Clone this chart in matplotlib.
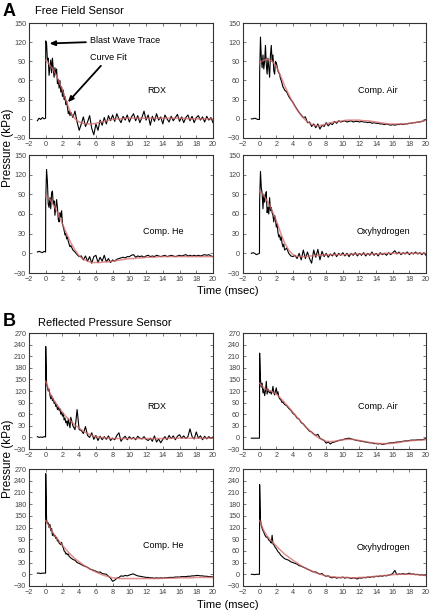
import numpy as np
import matplotlib
matplotlib.use("Agg")
import matplotlib.pyplot as plt

plt.rcParams['font.family'] = ['Liberation Sans', 'DejaVu Sans']

########
# Data #
########
# sample times (msec)
T_PRE = [-1.0, -0.8, -0.6, -0.4, -0.2, -0.02]
T_EARLY = [round(0.1 * i, 2) for i in range(31)]          # 0.0 .. 3.0
T_LATE = [round(3.25 + 0.25 * i, 2) for i in range(68)]   # 3.25 .. 20
T_TRACE = T_PRE + T_EARLY + T_LATE
T_FIT = [0.5 * i for i in range(41)]                       # 0 .. 20

# --- A: free field sensor ---
A_RDX_TRACE = (
    [-3, 1, -1, 2, 0, 1]
    + [122, 118, 92, 95, 68, 80, 92, 72, 95, 78, 65, 80, 70, 78, 55, 62, 48, 60, 42, 50,
       35, 45, 30, 35, 22, 28, 18, 8, 12, 5, 10]
    + [2, 12, -5, -18, -8, 3, -12, -5, 5, -15, -25, -8, -18, -2, -10, 2, -8, 5, -3, 6,
       -4, 8, 0, -6, 4, -2, 6, -5, 3, 8, -3, 5, -6, 2, 12, -2, 6, -10, 4, -4,
       8, -2, 3, -8, 6, 0, -5, 4, -3, 2, 7, -4, 3, -6, 2, 6, -3, 4, -6, 2,
       5, -2, 3, -5, 4, -2, 2, -6])
A_RDX_FIT = [92, 84, 75, 61, 45, 26, 9, 0, -5, -7, -8, -8, -7, -5, -4, -2, -1, 0, 0, 1,
             1, 1, 1, 1, 1, 1, 1, 1, 1, 1, 1, 1, 1, 1, 0, 0, 0, 0, 0, 0, 0]

A_AIR_TRACE = (
    [0, 0, 1, 0, -1, -1]
    + [70, 128, 95, 80, 100, 78, 90, 115, 85, 70, 95, 80, 65, 100, 115, 90, 100, 75, 70, 90,
       88, 82, 75, 72, 70, 63, 60, 55, 50, 48, 45]
    + [42, 35, 30, 26, 20, 15, 10, 6, 2, 3, -6, -5, -12, -8, -14, -8, -16, -10, -12, -6,
       -11, -7, -9, -4, -7, -3, -5, -4, -3, -5, -4, -3, -5, -4, -4, -5, -4, -5, -5, -6,
       -5, -7, -6, -7, -7, -8, -8, -9, -8, -9, -10, -9, -10, -9, -9, -8, -9, -8, -8, -7,
       -7, -6, -6, -5, -5, -4, -3, -1])
A_AIR_FIT = [88, 92, 93, 90, 82, 68, 52, 38, 25, 14, 5, -2, -7, -10, -11, -10, -8, -6, -5, -4,
             -3, -2, -2, -2, -2, -3, -3, -4, -5, -6, -7, -8, -8, -8, -8, -8, -7, -6, -5, -4, -2]

A_HE_TRACE = (
    [2, 3, 2, 1, 3, 2]
    + [80, 128, 110, 75, 70, 85, 68, 92, 95, 75, 80, 58, 70, 82, 70, 52, 48, 62, 55, 65,
       45, 40, 35, 28, 30, 22, 25, 18, 14, 10, 12]
    + [5, 2, -2, -5, -4, -10, -4, -12, -5, -15, -5, -3, -14, -6, -12, -3, -13, -8, -14, -10,
       -12, -9, -8, -7, -6, -7, -5, -5, -3, -2, -6, -4, -5, -4, -6, -4, -3, -5, -4, -5,
       -3, -4, -5, -4, -3, -5, -4, -3, -4, -5, -4, -3, -4, -3, -2, -4, -3, -4, -3, -4,
       -3, -4, -3, -2, -3, -2, -4, -5])
A_HE_FIT = [88, 82, 72, 60, 45, 30, 16, 5, -4, -9, -12, -14, -14, -14, -13, -13, -12, -11, -10, -9,
            -8, -8, -7, -7, -6, -6, -6, -5, -5, -5, -5, -5, -5, -5, -5, -5, -5, -5, -5, -5, -5]

A_OXY_TRACE = (
    [0, 1, 0, -2, -1, 0]
    + [80, 125, 100, 92, 68, 90, 78, 88, 94, 62, 70, 60, 85, 65, 70, 62, 58, 48, 58, 52,
       40, 45, 32, 25, 28, 20, 25, 15, 10, 14, 5]
    + [8, 0, -4, -5, -3, -8, 0, -10, 5, -8, 2, -8, -15, 5, -6, 6, -10, 3, -5, 0,
       -6, -1, -4, 1, -5, 0, -3, 1, -4, 0, -5, 0, -3, 1, -4, 0, -3, 1, -4, 0,
       -3, 2, -3, 0, -4, 1, -2, 0, -3, 1, -2, 1, 4, -1, 2, -2, 1, -1, 2, -2,
       1, -1, 2, -1, 1, -2, 1, -3])
A_OXY_FIT = [95, 88, 78, 65, 50, 32, 16, 5, -2, -5, -5, -5, -4, -4, -3, -3, -2, -2, -2, -2,
             -2, -2, -1, -1, -1, -1, -1, -1, -1, -1, 0, 0, 0, 0, 0, 0, 0, 0, 0, 0, 0]

# --- B: reflected pressure sensor ---
B_RDX_TRACE = (
    [2, 0, 1, 0, 2, 1]
    + [235, 140, 130, 120, 125, 110, 100, 108, 95, 100, 88, 92, 80, 85, 72, 78, 70, 74, 60, 65,
       55, 62, 45, 50, 38, 42, 30, 48, 35, 25, 52]
    + [30, 20, 72, 20, 18, 10, 28, 5, 0, 12, -5, 5, -8, 3, -6, 2, -5, 4, -8, -2,
       -6, 5, 12, -10, -2, 3, -6, 2, -4, 0, -6, 3, -2, -4, 2, -5, -8, -2, -10, 4,
       -12, -4, -14, -5, 2, -6, 5, -3, 4, -6, 3, 7, -2, 4, -3, 2, 22, 2, -4, 14,
       -2, 4, -6, 3, -4, 2, -3, 1])
B_RDX_FIT = [145, 115, 95, 80, 65, 52, 42, 32, 24, 16, 10, 5, 2, 0, -1, -2, -3, -3, -3, -3,
             -3, -3, -3, -3, -3, -3, -3, -3, -3, -3, -2, -2, -2, -2, -2, -2, -2, -2, -2, -2, -2]

B_AIR_TRACE = (
    [-2, -2, -2, -2, -2, -2]
    + [218, 150, 130, 140, 115, 125, 108, 120, 145, 112, 125, 118, 115, 120, 112, 118, 132, 115, 110, 120,
       128, 112, 118, 105, 100, 98, 95, 90, 92, 88, 85]
    + [82, 75, 70, 62, 58, 50, 47, 38, 35, 28, 22, 16, 14, 9, 5, 8, -2, -5, -8, -15,
       -12, -17, -13, -12, -10, -8, -7, -6, -4, -3, -2, -4, -5, -7, -8, -9, -10, -11, -12, -13,
       -14, -14, -16, -16, -17, -16, -18, -17, -16, -15, -14, -14, -13, -12, -12, -11, -10, -9, -9, -8,
       -7, -7, -7, -6, -6, -6, -5, -3])
B_AIR_FIT = [140, 128, 122, 118, 112, 102, 90, 78, 65, 52, 40, 28, 18, 8, 0, -6, -10, -11, -10, -8,
             -6, -5, -5, -6, -8, -10, -12, -14, -15, -16, -16, -16, -15, -14, -12, -10, -9, -8, -7, -7, -6]

B_HE_TRACE = (
    [3, 3, 2, 3, 3, 3]
    + [258, 140, 130, 132, 120, 128, 112, 118, 100, 105, 98, 100, 92, 95, 85, 88, 80, 78, 76, 82,
       72, 68, 60, 58, 52, 54, 50, 52, 46, 44, 42]
    + [38, 36, 30, 28, 25, 22, 20, 18, 14, 12, 10, 8, 5, 6, 2, 1, 0, -5, -10, -18,
       -15, -10, -8, -4, -5, -3, -4, -2, 0, 1, -2, -4, -5, -6, -7, -8, -8, -9, -9, -10,
       -9, -10, -9, -10, -9, -9, -8, -8, -8, -7, -7, -7, -6, -6, -6, -5, -5, -4, -4, -3,
       -3, -4, -4, -5, -5, -6, -6, -7])
B_HE_FIT = [138, 120, 102, 88, 74, 62, 50, 40, 32, 24, 17, 11, 6, 1, -3, -6, -9, -10, -11, -11,
            -11, -11, -11, -11, -11, -11, -11, -11, -10, -10, -10, -10, -9, -9, -9, -9, -8, -8, -8, -8, -8]

B_OXY_TRACE = (
    [0, 0, -1, 0, 0, 0]
    + [230, 140, 125, 118, 112, 108, 102, 98, 95, 96, 92, 88, 86, 84, 80, 100, 78, 76, 72, 68,
       66, 62, 58, 56, 54, 50, 48, 46, 44, 42, 40]
    + [38, 36, 32, 30, 28, 26, 22, 21, 18, 16, 13, 11, 8, 6, 6, 3, 0, 2, -3, -5,
       -4, -8, -9, -7, -10, -8, -9, -7, -10, -8, -9, -11, -9, -10, -12, -9, -10, -8, -9, -7,
       -8, -6, -7, -5, -6, -4, -5, -3, -4, -2, -1, 2, 10, -1, 1, 0, 2, 0, 1, 3,
       0, 1, -1, 0, -2, -1, -3, -2])
B_OXY_FIT = [138, 112, 95, 84, 73, 62, 52, 44, 36, 29, 22, 16, 11, 6, 2, -1, -4, -6, -7, -8,
             -8, -8, -9, -9, -8, -8, -7, -6, -5, -4, -3, -2, -1, 0, 0, 0, 0, 0, -1, -2, -3]

NAMES = ["RDX", "Comp. Air", "Comp. He", "Oxyhydrogen"]
A_TRACES = [A_RDX_TRACE, A_AIR_TRACE, A_HE_TRACE, A_OXY_TRACE]
A_FITS = [A_RDX_FIT, A_AIR_FIT, A_HE_FIT, A_OXY_FIT]
B_TRACES = [B_RDX_TRACE, B_AIR_TRACE, B_HE_TRACE, B_OXY_TRACE]
B_FITS = [B_RDX_FIT, B_AIR_FIT, B_HE_FIT, B_OXY_FIT]

##########
# Layout #
##########
W, H = 430, 612
fig = plt.figure(figsize=(W / 100, H / 100), dpi=100)

def px_axes(x0, y0, x1, y1):
    return fig.add_axes([x0 / W, 1 - y1 / H, (x1 - x0) / W, (y1 - y0) / H])

cols = [(29, 213), (243, 426)]
rows_a = [(23, 138), (155, 273)]
rows_b = [(333, 449), (469, 586)]
label_pos_a = [(13.3, 45), (14.2, 45), (14.0, 33), (14.9, 33)]
label_pos_b = [(13.3, 81), (14.2, 79), (14.0, 75), (14.9, 70)]

TRACE_C = "black"
FIT_C = "#d96a6a"

def draw_panel(ax, trace, fit, name, lpos, ymax, ystep):
    assert len(trace) == len(T_TRACE) and len(fit) == len(T_FIT), name
    ax.plot(T_TRACE, trace, color=TRACE_C, lw=0.8, zorder=2)
    ax.plot(T_FIT, fit, color=FIT_C, lw=1.1, alpha=0.75, zorder=3)
    ax.set_xlim(-2, 20)
    ax.set_ylim(-30, ymax)
    ax.set_xticks(range(-2, 21, 2))
    ax.set_yticks(range(-30, ymax + 1, ystep))
    ax.tick_params(direction="in", top=True, right=True, length=2, width=0.5,
                   labelsize=5.2, labelcolor="#444444", pad=2, color="#444444")
    for s in ax.spines.values():
        s.set_linewidth(0.8)
        s.set_color("#333333")
    ax.text(lpos[0], lpos[1], name, ha="center", va="center", fontsize=6.5)

axes_a = []
for i in range(4):
    r, c = divmod(i, 2)
    ax = px_axes(cols[c][0], rows_a[r][0], cols[c][1], rows_a[r][1])
    draw_panel(ax, A_TRACES[i], A_FITS[i], NAMES[i], label_pos_a[i], 150, 30)
    axes_a.append(ax)

for i in range(4):
    r, c = divmod(i, 2)
    ax = px_axes(cols[c][0], rows_b[r][0], cols[c][1], rows_b[r][1])
    draw_panel(ax, B_TRACES[i], B_FITS[i], NAMES[i], label_pos_b[i], 270, 30)

# annotations in the first panel
arrow = dict(arrowstyle="-|>,head_length=0.5,head_width=0.22", color="black", lw=1.3,
             shrinkA=1, shrinkB=0)
axes_a[0].annotate("Blast Wave Trace", xy=(0.45, 118), xytext=(5.3, 122),
                   ha="left", va="center", fontsize=6.5, arrowprops=arrow)
axes_a[0].annotate("Curve Fit", xy=(2.65, 26), xytext=(5.3, 96),
                   ha="left", va="center", fontsize=6.5, arrowprops=arrow)

# figure texts
fig.text(3 / W, 1 - 11 / H, "A", fontsize=13, fontweight="bold", va="center", ha="left")
fig.text(35 / W, 1 - 11 / H, "Free Field Sensor", fontsize=8, va="center", ha="left")
fig.text(3 / W, 1 - 322 / H, "B", fontsize=13, fontweight="bold", va="center", ha="left")
fig.text(38 / W, 1 - 323 / H, "Reflected Pressure Sensor", fontsize=8, va="center", ha="left")
fig.text(8 / W, 1 - 148 / H, "Pressure (kPa)", fontsize=8.5, rotation=90, va="center", ha="center")
fig.text(8 / W, 1 - 459 / H, "Pressure (kPa)", fontsize=8.5, rotation=90, va="center", ha="center")
fig.text(228 / W, 1 - 291 / H, "Time (msec)", fontsize=8, va="center", ha="center")
fig.text(228 / W, 1 - 605 / H, "Time (msec)", fontsize=8, va="center", ha="center")

fig.savefig("out.png", dpi=100)
